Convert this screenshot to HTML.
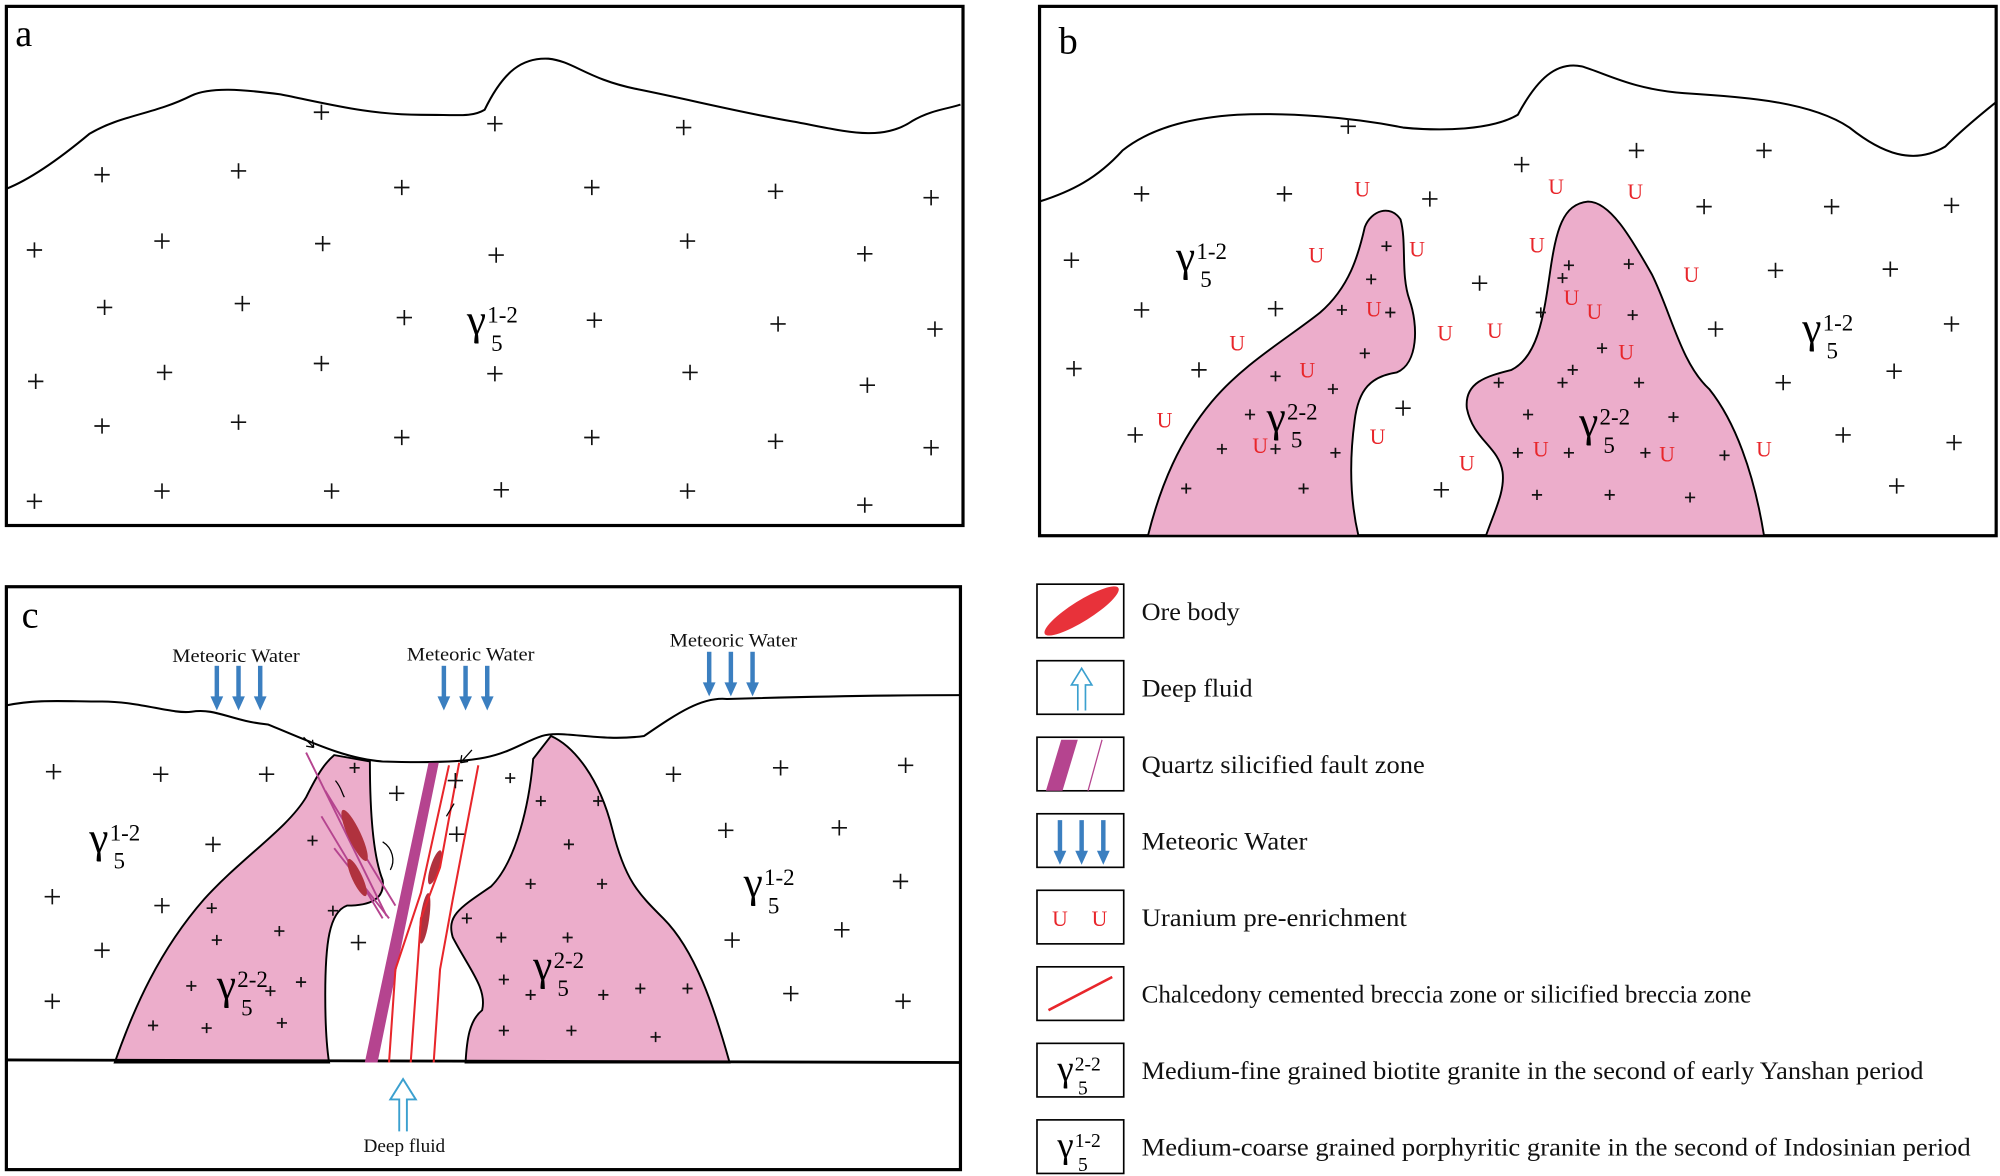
<!DOCTYPE html>
<html><head><meta charset="utf-8"><style>
html,body{margin:0;padding:0;background:#fff;width:2000px;height:1176px;overflow:hidden}
svg{display:block}
text{font-family:"Liberation Serif",serif;}
.p{stroke:#111;stroke-width:1.3;fill:none}
.u{fill:#e8262b;font-size:17px;text-anchor:middle}
.ln{fill:none;stroke:#000;stroke-width:1.6}
.pk{fill:#ecadcb;stroke:#000;stroke-width:1.5}
.lt{font-size:20px;fill:#111}
.mw{font-size:15px;fill:#111;text-anchor:middle}
</style></head><body>
<svg width="2000" height="1176" viewBox="0 0 1568 922" preserveAspectRatio="none" xmlns="http://www.w3.org/2000/svg">
<defs>
<symbol id="pl" overflow="visible"><path d="M-6 0H6M0 -6V6" stroke="#111" stroke-width="1.3"/></symbol>
<g id="g12"><text font-size="34">γ</text><text x="16" y="-9" font-size="18">1-2</text><text x="19" y="13" font-size="18">5</text></g>
<g id="g22"><text font-size="34">γ</text><text x="16" y="-9" font-size="18">2-2</text><text x="19" y="13" font-size="18">5</text></g>
<g id="mw"><path d="M0 0V26" stroke="#3b7fc0" stroke-width="3.5"/><path d="M-5 24H5L0 35Z" fill="#3b7fc0"/></g>
</defs>

<!-- Panel a -->
<rect x="5" y="5" width="750" height="407" fill="none" stroke="#000" stroke-width="2.5"/>
<text x="12" y="36" font-size="30">a</text>
<path class="ln" d="M5 148 C20 142 40 130 70 105 C95 90 120 90 150 75 C165 68 190 70 220 74 C260 82 290 90 330 90 C360 90 370 92 380 86 C395 55 410 45 430 46 C450 48 460 62 500 70 C540 78 580 88 620 95 C660 102 690 112 715 95 C730 86 745 85 753 82"/>
<g>
<use href="#pl" x="252" y="88"/><use href="#pl" x="388" y="97"/><use href="#pl" x="536" y="100"/>
<use href="#pl" x="80" y="137"/><use href="#pl" x="187" y="134"/><use href="#pl" x="315" y="147"/><use href="#pl" x="464" y="147"/><use href="#pl" x="608" y="150"/><use href="#pl" x="730" y="155"/>
<use href="#pl" x="27" y="196"/><use href="#pl" x="127" y="189"/><use href="#pl" x="253" y="191"/><use href="#pl" x="389" y="200"/><use href="#pl" x="539" y="189"/><use href="#pl" x="678" y="199"/>
<use href="#pl" x="82" y="241"/><use href="#pl" x="190" y="238"/><use href="#pl" x="317" y="249"/><use href="#pl" x="466" y="251"/><use href="#pl" x="610" y="254"/><use href="#pl" x="733" y="258"/>
<use href="#pl" x="28" y="299"/><use href="#pl" x="129" y="292"/><use href="#pl" x="252" y="285"/><use href="#pl" x="388" y="293"/><use href="#pl" x="541" y="292"/><use href="#pl" x="680" y="302"/>
<use href="#pl" x="80" y="334"/><use href="#pl" x="187" y="331"/><use href="#pl" x="315" y="343"/><use href="#pl" x="464" y="343"/><use href="#pl" x="608" y="346"/><use href="#pl" x="730" y="351"/>
<use href="#pl" x="27" y="393"/><use href="#pl" x="127" y="385"/><use href="#pl" x="260" y="385"/><use href="#pl" x="393" y="384"/><use href="#pl" x="539" y="385"/><use href="#pl" x="678" y="396"/>
</g>
<use href="#g12" x="366" y="262"/>

<!-- Panel b -->
<rect x="815" y="5" width="750" height="415" fill="none" stroke="#000" stroke-width="2.5"/>
<text x="830" y="42" font-size="30">b</text>
<path class="ln" d="M815 158 C840 150 860 140 880 118 C905 98 940 92 970 90 C1010 88 1060 92 1100 100 C1130 103 1170 102 1190 90 C1205 62 1220 48 1240 52 C1260 58 1280 70 1320 73 C1370 76 1420 80 1450 100 C1475 120 1500 130 1525 115 C1540 100 1555 88 1565 80"/>
<path class="pk" d="M900 420 C910 380 925 345 950 315 C975 285 1010 265 1035 245 C1058 225 1065 200 1070 178 C1075 165 1090 160 1098 172 C1103 190 1098 215 1105 235 C1112 255 1112 285 1095 292 C1075 295 1065 305 1062 330 C1058 360 1058 390 1065 420 Z"/>
<path class="pk" d="M1165 420 C1172 400 1180 385 1178 370 C1175 350 1155 345 1150 320 C1148 300 1165 295 1185 290 C1205 280 1210 250 1215 215 C1220 180 1225 160 1245 158 C1262 158 1278 185 1295 215 C1310 245 1318 285 1340 305 C1360 330 1375 370 1383 420 Z"/>
<g>
<use href="#pl" x="1057" y="99"/><use href="#pl" x="1193" y="129"/><use href="#pl" x="1283" y="118"/><use href="#pl" x="1383" y="118"/>
<use href="#pl" x="895" y="152"/><use href="#pl" x="1007" y="152"/><use href="#pl" x="1121" y="156"/><use href="#pl" x="1336" y="162"/><use href="#pl" x="1436" y="162"/><use href="#pl" x="1530" y="161"/>
<use href="#pl" x="840" y="204"/><use href="#pl" x="1160" y="222"/><use href="#pl" x="1392" y="212"/><use href="#pl" x="1482" y="211"/>
<use href="#pl" x="895" y="243"/><use href="#pl" x="1000" y="242"/><use href="#pl" x="1345" y="258"/><use href="#pl" x="1530" y="254"/>
<use href="#pl" x="842" y="289"/><use href="#pl" x="940" y="290"/><use href="#pl" x="1398" y="300"/><use href="#pl" x="1485" y="291"/>
<use href="#pl" x="890" y="341"/><use href="#pl" x="1100" y="320"/><use href="#pl" x="1445" y="341"/><use href="#pl" x="1532" y="347"/>
<use href="#pl" x="1130" y="384"/><use href="#pl" x="1487" y="381"/>
</g>
<g>
<path class="p" d="M1083 193h8M1087 189v8M1071 219h8M1075 215v8M1048 243h8M1052 239v8M1086 245h8M1090 241v8M1066 277h8M1070 273v8M1041 305h8M1045 301v8M996 295h8M1000 291v8M976 325h8M980 321v8M954 352h8M958 348v8M996 352h8M1000 348v8M1043 355h8M1047 351v8M926 383h8M930 379v8M1018 383h8M1022 379v8M1226 208h8M1230 204v8M1273 207h8M1277 203v8M1221 218h8M1225 214v8M1204 245h8M1208 241v8M1276 247h8M1280 243v8M1252 273h8M1256 269v8M1229 290h8M1233 286v8M1171 300h8M1175 296v8M1221 300h8M1225 296v8M1281 300h8M1285 296v8M1308 327h8M1312 323v8M1194 325h8M1198 321v8M1186 355h8M1190 351v8M1226 355h8M1230 351v8M1286 355h8M1290 351v8M1348 357h8M1352 353v8M1201 388h8M1205 384v8M1258 388h8M1262 384v8M1321 390h8M1325 386v8"/>
</g>
<g class="u">
<text x="1068" y="154">U</text><text x="1220" y="152">U</text><text x="1282" y="156">U</text><text x="1111" y="201">U</text><text x="1032" y="206">U</text><text x="1205" y="198">U</text><text x="1326" y="221">U</text><text x="1232" y="239">U</text><text x="1077" y="248">U</text><text x="1133" y="267">U</text><text x="1172" y="265">U</text><text x="1250" y="250">U</text><text x="970" y="275">U</text><text x="1275" y="282">U</text><text x="1025" y="296">U</text><text x="913" y="335">U</text><text x="988" y="355">U</text><text x="1080" y="348">U</text><text x="1208" y="358">U</text><text x="1307" y="362">U</text><text x="1383" y="358">U</text><text x="1150" y="369">U</text>
</g>
<use href="#g12" x="922" y="212"/><use href="#g12" x="1413" y="268"/>
<use href="#g22" x="993" y="338"/><use href="#g22" x="1238" y="342"/>

<!-- Panel c -->
<rect x="5" y="460" width="748" height="457" fill="none" stroke="#000" stroke-width="2.5"/>
<text x="17" y="492" font-size="30">c</text>
<path class="pk" d="M90 833 C105 790 125 745 160 705 C190 672 225 650 240 625 C250 605 255 598 262 592 L290 597 C290 630 292 670 300 690 C302 705 290 710 272 710 C258 715 255 740 255 780 C255 805 256 820 258 833 Z"/>
<path class="pk" d="M365 833 C366 815 368 800 378 792 C382 775 368 760 355 735 C350 718 360 712 385 695 C405 675 415 630 418 595 L432 577 C450 585 470 610 480 650 C490 690 500 700 520 720 C545 745 560 790 572 833 Z"/>
<path class="ln" d="M5 553 C30 548 50 550 80 550 C110 550 135 560 150 558 C170 555 180 565 210 568 C240 580 270 595 300 597 C330 598 360 598 380 594 C400 590 410 582 425 577 C440 572 470 582 505 577 C530 560 550 546 570 548 C640 546 700 545 753 545"/>
<path d="M5 831 L753 833" stroke="#000" stroke-width="2.2"/>
<g stroke="#b5448f" stroke-width="1.5" fill="none">
<path d="M240 590 L303 718"/><path d="M255 620 L310 710"/><path d="M252 640 L300 720"/><path d="M262 665 L305 720"/>
</g>
<ellipse cx="278" cy="655" rx="5" ry="22" fill="#b0323e" transform="rotate(-25 278 655)"/>
<ellipse cx="280" cy="688" rx="4" ry="16" fill="#b0323e" transform="rotate(-25 280 688)"/>
<ellipse cx="341" cy="680" rx="3.5" ry="14" fill="#b0323e" transform="rotate(18 341 680)"/>
<ellipse cx="333" cy="720" rx="3.5" ry="20" fill="#b0323e" transform="rotate(8 333 720)"/>
<path d="M286 833 L336 598 L344 598 L296 833 Z" fill="#b5448f"/>
<g stroke="#e8262b" stroke-width="1.6" fill="none">
<path d="M305 833 L310 760 L330 700 L352 600"/><path d="M322 833 L330 720 L345 680 L360 598"/><path d="M340 833 L345 760 L355 705 L375 600"/>
</g>
<g stroke="#000" stroke-width="1" fill="none">
<path d="M238 578 l8 8 M246 586 l-1 -6 M246 586 l-6 -1"/><path d="M370 588 l-9 10 M361 598 l1 -6 M361 598 l6 -1"/>
<path d="M263 612 C268 618 268 622 270 625"/><path d="M356 630 l-6 10"/><path d="M300 660 C308 665 310 675 306 682"/>
</g>
<g>
<use href="#pl" x="42" y="605"/><use href="#pl" x="126" y="607"/><use href="#pl" x="209" y="607"/><use href="#pl" x="528" y="607"/><use href="#pl" x="612" y="602"/><use href="#pl" x="710" y="600"/>
<use href="#pl" x="167" y="662"/><use href="#pl" x="569" y="651"/><use href="#pl" x="658" y="649"/><use href="#pl" x="41" y="703"/><use href="#pl" x="127" y="710"/><use href="#pl" x="706" y="691"/>
<use href="#pl" x="80" y="745"/><use href="#pl" x="574" y="737"/><use href="#pl" x="660" y="729"/><use href="#pl" x="41" y="785"/><use href="#pl" x="620" y="779"/><use href="#pl" x="708" y="785"/>
<use href="#pl" x="311" y="622"/><use href="#pl" x="357" y="612"/><use href="#pl" x="358" y="654"/><use href="#pl" x="281" y="739"/>
</g>
<path class="p" d="M274 602h8M278 598v8M396 610h8M400 606v8M420 628h8M424 624v8M465 628h8M469 624v8M442 662h8M446 658v8M412 693h8M416 689v8M468 693h8M472 689v8M241 659h8M245 655v8M162 712h8M166 708v8M257 714h8M261 710v8M215 730h8M219 726v8M232 770h8M236 766v8M389 735h8M393 731v8M441 735h8M445 731v8M166 737h8M170 733v8M208 777h8M212 773v8M391 768h8M395 764v8M412 780h8M416 776v8M469 780h8M473 776v8M146 773h8M150 769v8M116 804h8M120 800v8M158 806h8M162 802v8M217 802h8M221 798v8M362 720h8M366 716v8M498 775h8M502 771v8M535 775h8M539 771v8M391 808h8M395 804v8M444 808h8M448 804v8M510 813h8M514 809v8"/>
<use href="#g12" x="70" y="668"/><use href="#g12" x="583" y="703"/>
<use href="#g22" x="170" y="783"/><use href="#g22" x="418" y="768"/>
<text class="mw" x="185" y="519" textLength="100" lengthAdjust="spacingAndGlyphs">Meteoric Water</text>
<text class="mw" x="369" y="518" textLength="100" lengthAdjust="spacingAndGlyphs">Meteoric Water</text>
<text class="mw" x="575" y="507" textLength="100" lengthAdjust="spacingAndGlyphs">Meteoric Water</text>
<use href="#mw" x="170" y="522"/><use href="#mw" x="187" y="522"/><use href="#mw" x="204" y="522"/>
<use href="#mw" x="348" y="522"/><use href="#mw" x="365" y="522"/><use href="#mw" x="382" y="522"/>
<use href="#mw" x="556" y="511"/><use href="#mw" x="573" y="511"/><use href="#mw" x="590" y="511"/>
<path d="M313 887 V862 H306 L316 846 L326 862 H319 V887" fill="none" stroke="#3ba0cf" stroke-width="1.5"/>
<text class="mw" x="317" y="903" textLength="64" lengthAdjust="spacingAndGlyphs">Deep fluid</text>

<!-- Legend -->
<g fill="none" stroke="#000" stroke-width="1.3">
<rect x="813" y="458" width="68" height="42"/><rect x="813" y="518" width="68" height="42"/><rect x="813" y="578" width="68" height="42"/><rect x="813" y="638" width="68" height="42"/>
<rect x="813" y="698" width="68" height="42"/><rect x="813" y="758" width="68" height="42"/><rect x="813" y="818" width="68" height="42"/><rect x="813" y="878" width="68" height="42"/>
</g>
<ellipse cx="848" cy="479" rx="34" ry="8" fill="#e8323a" transform="rotate(-32 848 479)"/>
<path d="M845 557 V537 H840 L848 524 L856 537 H851 V557" fill="none" stroke="#3ba0cf" stroke-width="1.3"/>
<path d="M820 620 L832 580 L845 580 L833 620 Z" fill="#b5448f"/><path d="M853 620 L864 580" stroke="#b5448f" stroke-width="1"/>
<use href="#mw" x="831" y="643"/><use href="#mw" x="848" y="643"/><use href="#mw" x="865" y="643"/>
<text class="u" x="831" y="726">U</text><text class="u" x="862" y="726">U</text>
<path d="M822 792 L872 766" stroke="#e8262b" stroke-width="2"/>
<g transform="translate(829 847) scale(0.85)"><text font-size="34">γ</text><text x="16" y="-9" font-size="18">2-2</text><text x="19" y="13" font-size="18">5</text></g>
<g transform="translate(829 907) scale(0.85)"><text font-size="34">γ</text><text x="16" y="-9" font-size="18">1-2</text><text x="19" y="13" font-size="18">5</text></g>
<text class="lt" x="895" y="486" textLength="77" lengthAdjust="spacingAndGlyphs">Ore body</text>
<text class="lt" x="895" y="546" textLength="87" lengthAdjust="spacingAndGlyphs">Deep fluid</text>
<text class="lt" x="895" y="606" textLength="222" lengthAdjust="spacingAndGlyphs">Quartz silicified fault zone</text>
<text class="lt" x="895" y="666" textLength="130" lengthAdjust="spacingAndGlyphs">Meteoric Water</text>
<text class="lt" x="895" y="726" textLength="208" lengthAdjust="spacingAndGlyphs">Uranium pre-enrichment</text>
<text class="lt" x="895" y="786" textLength="478" lengthAdjust="spacingAndGlyphs">Chalcedony cemented breccia zone or silicified breccia zone</text>
<text class="lt" x="895" y="846" textLength="613" lengthAdjust="spacingAndGlyphs">Medium-fine grained biotite granite in the second of early Yanshan period</text>
<text class="lt" x="895" y="906" textLength="650" lengthAdjust="spacingAndGlyphs">Medium-coarse grained porphyritic granite in the second of Indosinian period</text>
</svg>
</body></html>
